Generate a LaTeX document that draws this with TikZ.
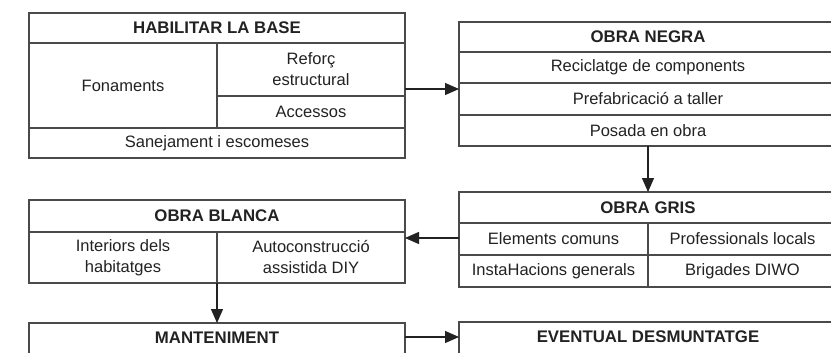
\documentclass[tikz,border=0pt]{standalone}
\usepackage{fontspec}
\setmainfont{Liberation Sans}
\usetikzlibrary{arrows.meta}
\definecolor{linegray}{HTML}{4A4A4A}
\definecolor{ink}{HTML}{222222}
\begin{document}
\begin{tikzpicture}[x=1pt,y=-1pt,
  frame/.style={draw=linegray, line width=1.3pt, inner sep=0pt, outer sep=0pt, anchor=north west},
  rule/.style={draw=linegray, line width=1.3pt},
  head/.style={font=\fontsize{16.8}{20}\selectfont\bfseries, text=ink, inner sep=0pt},
  cell/.style={font=\fontsize{16.5}{21}\selectfont, text=ink, align=center, inner sep=0pt},
  arr/.style={draw=ink, line width=1.3pt, -{Triangle[length=14pt,width=12pt]}}]
\useasboundingbox (0,0) rectangle (831,353);
\clip (0,0) rectangle (831,353);
\fill[white] (0,0) rectangle (831,353);

% --- HABILITAR LA BASE ---
\node[frame, minimum width=376pt, minimum height=145pt] (hab) at (29,13) {};
\draw[rule] (29,43) -- (405,43);
\draw[rule] (217,43) -- (217,128);
\draw[rule] (217,96) -- (405,96);
\draw[rule] (29,128) -- (405,128);
\node[head] (habT) at (217,28) {HABILITAR LA BASE};
\node[cell] (fon) at (123,86) {Fonaments};
\node[cell] (ref) at (311,69.5) {Reforç\\estructural};
\node[cell] (acc) at (311,112) {Accessos};
\node[cell] (san) at (217,143) {Sanejament i escomeses};

% --- OBRA NEGRA ---
\node[frame, minimum width=378pt, minimum height=124pt] (neg) at (459,22) {};
\draw[rule] (459,52) -- (837,52);
\draw[rule] (459,83) -- (837,83);
\draw[rule] (459,115) -- (837,115);
\node[head] (negT) at (648,37) {OBRA NEGRA};
\node[cell] (rec) at (648,67.5) {Reciclatge de components};
\node[cell] (pre) at (648,99) {Prefabricació a taller};
\node[cell] (pos) at (648,130.5) {Posada en obra};

% --- OBRA GRIS ---
\node[frame, minimum width=378pt, minimum height=95pt] (gris) at (459,192) {};
\draw[rule] (459,223) -- (837,223);
\draw[rule] (459,255) -- (837,255);
\draw[rule] (648,223) -- (648,287);
\node[head] (grisT) at (648,207.5) {OBRA GRIS};
\node[cell] (ele) at (553.5,239) {Elements comuns};
\node[cell] (pro) at (742.5,239) {Professionals locals};
\node[cell] (ins) at (553.5,271) {InstaHacions generals};
\node[cell] (bri) at (742.5,271) {Brigades DIWO};

% --- OBRA BLANCA ---
\node[frame, minimum width=376pt, minimum height=83pt] (bla) at (29,200) {};
\draw[rule] (29,232) -- (405,232);
\draw[rule] (217,232) -- (217,283);
\node[head] (blaT) at (217,216) {OBRA BLANCA};
\node[cell] (int) at (123,257.5) {Interiors dels\\habitatges};
\node[cell] (aut) at (311,257.5) {Autoconstrucció\\assistida DIY};

% --- MANTENIMENT / EVENTUAL DESMUNTATGE ---
\node[frame, minimum width=376pt, minimum height=50pt] (man) at (29,323) {};
\node[head] (manT) at (217,338) {MANTENIMENT};
\node[frame, minimum width=378pt, minimum height=50pt] (des) at (459,322) {};
\node[head] (desT) at (648,337) {EVENTUAL DESMUNTATGE};

% --- connectors ---
\coordinate (yAB) at (0,89);
\coordinate (yCD) at (0,238);
\coordinate (yEF) at (0,337);
\draw[arr] (hab.east |- yAB) -- (neg.west |- yAB);
\draw[arr] (neg.south) -- (gris.north);
\draw[arr] (gris.west |- yCD) -- (bla.east |- yCD);
\draw[arr] (bla.south) -- (man.north);
\draw[arr] (man.east |- yEF) -- (des.west |- yEF);
\end{tikzpicture}
\end{document}
